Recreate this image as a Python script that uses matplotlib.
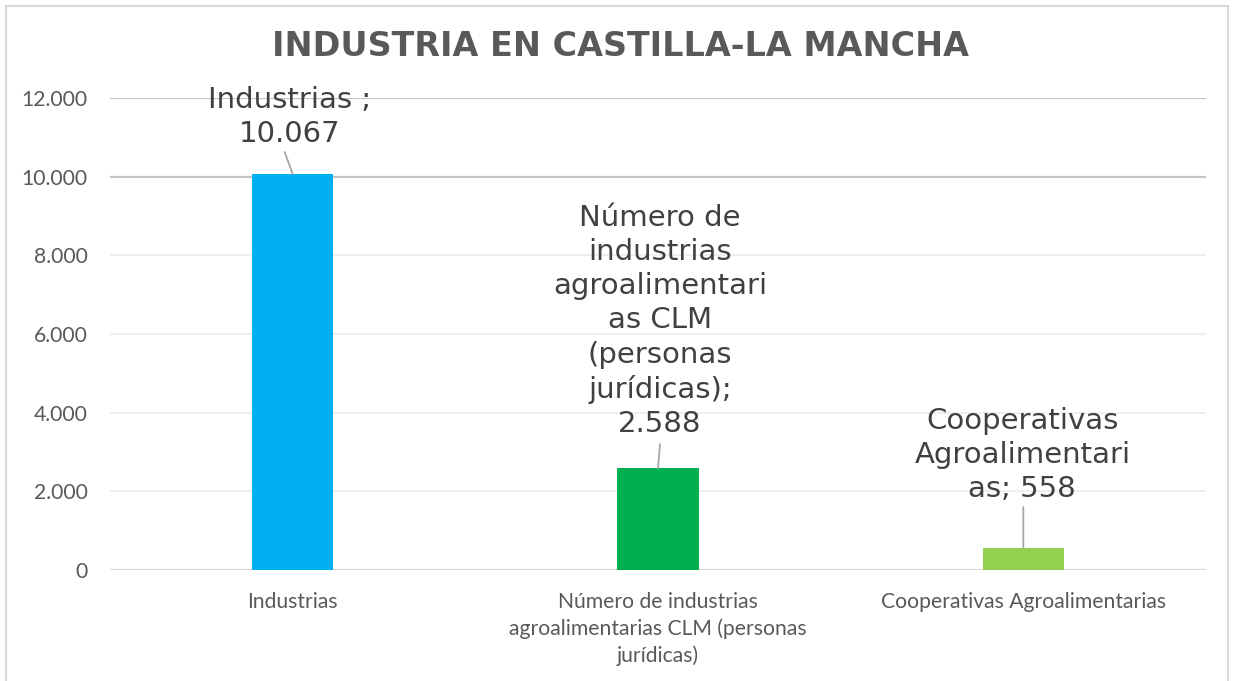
import matplotlib
matplotlib.use("Agg")
import matplotlib.pyplot as plt
from matplotlib.ticker import FuncFormatter
from matplotlib.patches import Rectangle

categories = ["Industrias",
              "Número de industrias\nagroalimentarias CLM (personas\njurídicas)",
              "Cooperativas Agroalimentarias"]
values = [10067, 2588, 558]
bar_colors = ["#00B0F0", "#00B050", "#92D050"]
data_labels = ["Industrias ;\n10.067",
               "Número de\nindustrias\nagroalimentari\nas CLM\n(personas\njurídicas);\n2.588",
               "Cooperativas\nAgroalimentari\nas; 558"]
yticks = [0, 2000, 4000, 6000, 8000, 10000, 12000]
title = "INDUSTRIA EN CASTILLA-LA MANCHA"

W, H, DPI = 1237, 681, 100
fig = plt.figure(figsize=(W / DPI, H / DPI), dpi=DPI)
ax = fig.add_axes([110 / W, 111 / H, 1096 / W, 472 / H])

x = list(range(len(categories)))
ax.bar(x, values, width=0.222, color=bar_colors, zorder=3)
ax.set_xlim(-0.5, 2.5)
ax.set_ylim(0, 12000)

# grid lines
grid_colors = {0: "#D9D9D9", 2000: "#EEEEEE", 4000: "#EEEEEE", 6000: "#EEEEEE",
               8000: "#EEEEEE", 10000: "#C4C4C4", 12000: "#C4C4C4"}
for t in yticks:
    ax.axhline(t, color=grid_colors[t], lw=1.6 if t in (0, 10000, 12000) else 1.3, zorder=1)

for s in ax.spines.values():
    s.set_visible(False)

tick_font = "Lato"
ax.set_yticks(yticks)
ax.yaxis.set_major_formatter(FuncFormatter(lambda v, p: f"{int(v):,}".replace(",", ".")))
ax.set_xticks(x)
ax.set_xticklabels(categories, linespacing=1.39)
ax.tick_params(axis="both", length=0, labelcolor="#595959", labelsize=15.2)
ax.tick_params(axis="y", pad=16)
ax.tick_params(axis="x", pad=16)
for lab in ax.get_xticklabels() + ax.get_yticklabels():
    lab.set_fontfamily(tick_font)

# data labels with leader lines
label_offsets = [(-3, 26), (2, 30), (-1, 45)]
line_starts = [(-8, 22), (2, 24), (0, 41)]
for xi, v, lab, (dx, dy), (lx, ly) in zip(x, values, data_labels, label_offsets, line_starts):
    ax.annotate(lab, xy=(xi, v), xytext=(dx, dy), textcoords="offset pixels",
                ha="center", va="bottom", fontsize=21, color="#404040",
                family="DejaVu Sans", linespacing=1.28, zorder=5,
                annotation_clip=False)
    ax.annotate("", xy=(xi, v), xytext=(lx, ly), textcoords="offset pixels",
                arrowprops=dict(arrowstyle="-", color="#A6A6A6", lw=1.3,
                                shrinkA=0, shrinkB=0), zorder=4,
                annotation_clip=False)

fig.text(620 / W, 1 - 46 / H, title, ha="center", va="center",
         fontsize=24, fontweight="bold", color="#595959", family="DejaVu Sans")

# chart border
fig.patches.append(Rectangle((6 / W, -0.05), 1222 / W, 1 - 6 / H + 0.05,
                             transform=fig.transFigure, fill=False,
                             edgecolor="#D9D9D9", lw=1.5))

fig.savefig("out.png", dpi=DPI)
